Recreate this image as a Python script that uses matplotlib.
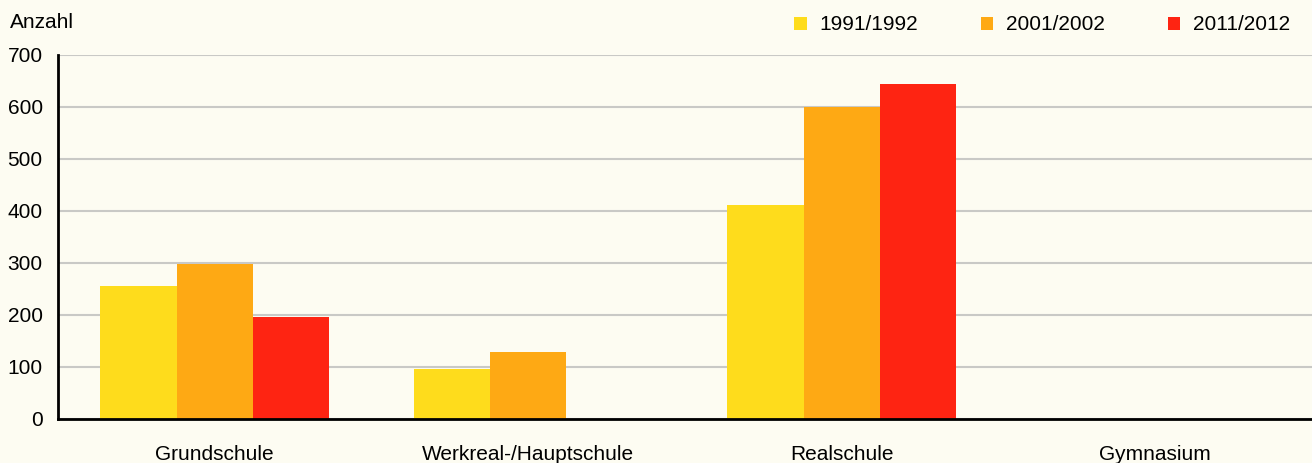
import matplotlib
matplotlib.use("Agg")
import matplotlib.pyplot as plt
import numpy as np

categories = ["Grundschule", "Werkreal-/Hauptschule", "Realschule", "Gymnasium"]
series_names = ["1991/1992", "2001/2002", "2011/2012"]
v1991 = [256, 96, 411, 0]
v2001 = [298, 129, 600, 0]
v2011 = [196, 0, 644, 0]
yticks = [0, 100, 200, 300, 400, 500, 600, 700]

colors = ["#fedc1c", "#fea914", "#fe2412"]
bg = "#fdfcf2"

plt.rcParams['font.family'] = ['Liberation Sans', 'DejaVu Sans']

fig = plt.figure(figsize=(13.12, 4.63), dpi=100, facecolor=bg)
ax = fig.add_axes([58/1312, 44/463, 1 - 58/1312, (419-55)/463])
ax.set_facecolor(bg)

x = np.arange(len(categories))
w = 0.243
for i, (vals, name, c) in enumerate(zip([v1991, v2001, v2011], series_names, colors)):
    ax.bar(x + (i - 1) * w, vals, width=w, color=c, label=name, zorder=2)

ax.set_xlim(-0.5, 3.5)
ax.set_ylim(0, 700)
ax.set_yticks(yticks)
ax.set_xticks(x)
ax.set_xticklabels(categories, fontsize=15)
ax.tick_params(axis='y', length=0, pad=11, labelsize=15)
ax.tick_params(axis='x', length=0, pad=19, labelsize=15)
ax.yaxis.grid(True, color="#c9c9c6", linewidth=1.5, zorder=0)
ax.set_axisbelow(True)
for s in ["top", "right"]:
    ax.spines[s].set_visible(False)
ax.spines["left"].set_linewidth(2)
ax.spines["bottom"].set_linewidth(2)
ax.spines["left"].set_zorder(3)
ax.spines["bottom"].set_zorder(3)

fig.text(10/1312, 1 - 22/463, "Anzahl", fontsize=15, va="center", ha="left")

leg = fig.legend(loc="center right", bbox_to_anchor=(1.0, 1 - 25/463), ncol=3,
                 frameon=False, fontsize=15, handlelength=0.58, handleheight=0.58,
                 handletextpad=0.6, columnspacing=3.05, borderaxespad=0.66)

fig.savefig("out.png", dpi=100, facecolor=bg)
